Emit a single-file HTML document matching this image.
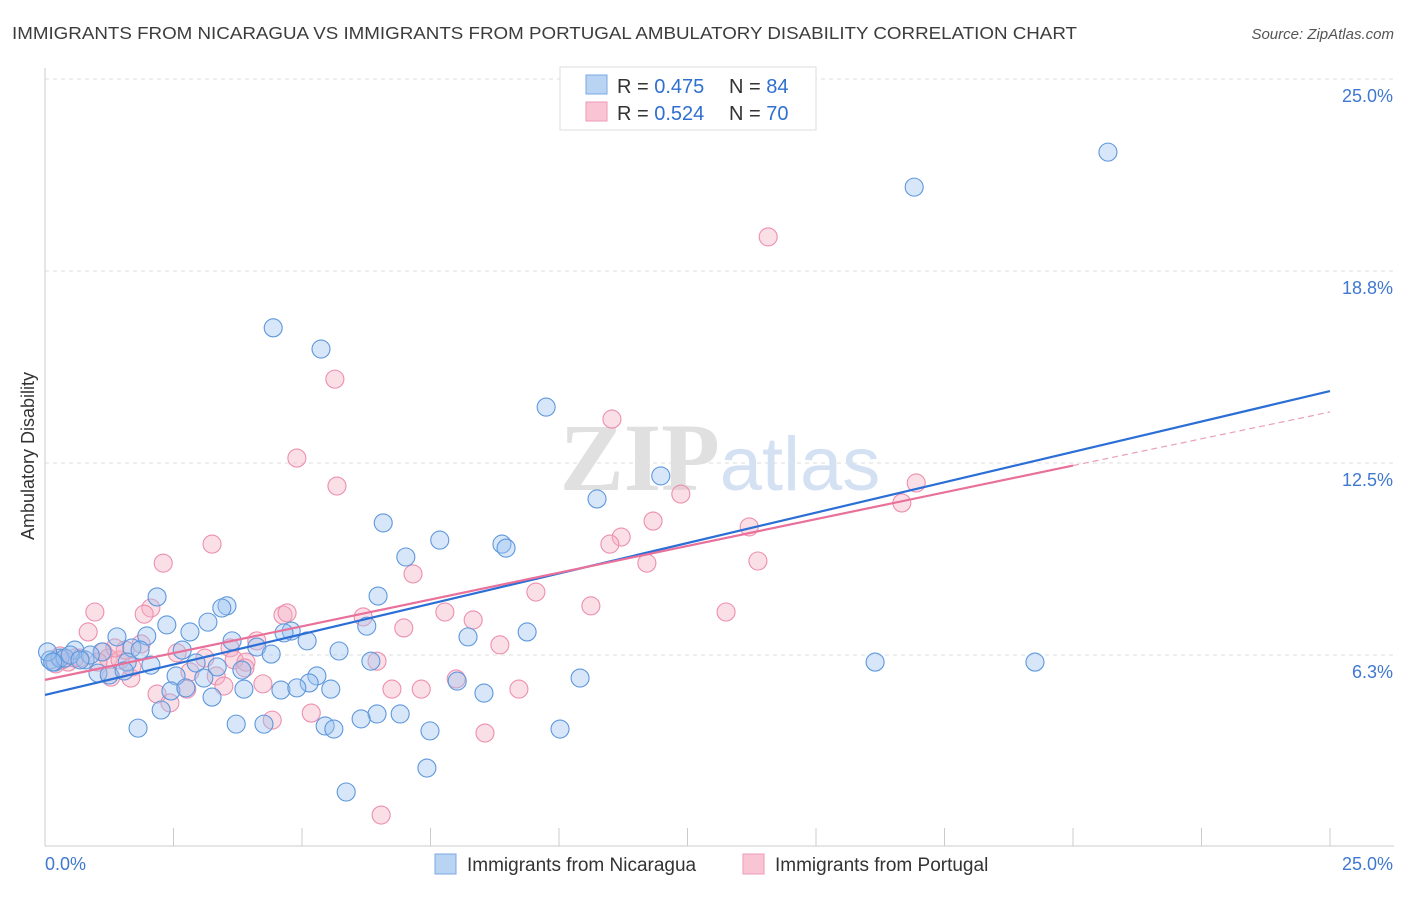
<!DOCTYPE html>
<html><head><meta charset="utf-8"><style>
body{margin:0;background:#fff;font-family:"Liberation Sans",sans-serif;}
svg text{font-family:"Liberation Sans",sans-serif;}
</style></head><body>
<svg id="chart" width="1406" height="892" viewBox="0 0 1406 892" xmlns="http://www.w3.org/2000/svg">
<text x="12" y="39" font-size="17.5" fill="#3c3c3c" textLength="1065" lengthAdjust="spacingAndGlyphs">IMMIGRANTS FROM NICARAGUA VS IMMIGRANTS FROM PORTUGAL AMBULATORY DISABILITY CORRELATION CHART</text>
<text x="1394" y="39" font-size="15" font-style="italic" fill="#555" text-anchor="end">Source: ZipAtlas.com</text>
<text transform="translate(34,456) rotate(-90)" font-size="18" fill="#333" text-anchor="middle">Ambulatory Disability</text>
<g id="grid"></g>
<g id="axes"></g>
<text x="720" y="490" font-size="96" text-anchor="middle"><tspan fill="#e0e0e0" font-family="Liberation Serif" font-weight="bold">ZIP</tspan><tspan fill="#d3e1f3" font-size="76">atlas</tspan></text>
<g id="points"></g>
<g id="lines"></g>
<g>
<rect x="560" y="67" width="256" height="63" fill="#fff" stroke="#ddd"/>
<rect x="586" y="75" width="21" height="19" fill="#b9d3f3" stroke="#7aaae6"/>
<rect x="586" y="102" width="21" height="19" fill="#f9c5d5" stroke="#ee9ab5"/>
<text x="617" y="93" font-size="20" fill="#333">R = <tspan fill="#2f6fd0">0.475</tspan></text>
<text x="729" y="93" font-size="20" fill="#333">N = <tspan fill="#2f6fd0">84</tspan></text>
<text x="617" y="120" font-size="20" fill="#333">R = <tspan fill="#2f6fd0">0.524</tspan></text>
<text x="729" y="120" font-size="20" fill="#333">N = <tspan fill="#2f6fd0">70</tspan></text>
</g>
<g>
<rect x="435" y="854" width="21" height="20" fill="#b9d3f3" stroke="#7aaae6"/>
<text x="467" y="871" font-size="19" fill="#333">Immigrants from Nicaragua</text>
<rect x="743" y="854" width="21" height="20" fill="#f9c5d5" stroke="#ee9ab5"/>
<text x="775" y="871" font-size="19" fill="#333">Immigrants from Portugal</text>
</g>
</svg>
<script>
const blueX=[20.68,16.91,4.44,5.37,9.75,11.98,10.74,6.58,7.68,8.89,8.97,7.02,2.18,6.48,3.54,3.44,2.37,3.17,6.26,9.38,4.79,4.65,2.82,1.40,1.98,3.64,5.10,8.23,4.12,1.69,1.85,0.58,1.11,2.67,4.40,5.72,6.34,16.15,19.26,1.60,2.06,2.94,3.35,3.83,1.03,1.25,1.54,2.55,5.29,10.41,3.09,5.14,8.02,3.87,4.59,4.90,5.56,2.45,2.74,8.54,3.25,2.26,6.91,6.46,6.15,1.81,3.72,4.26,5.45,5.62,7.49,10.02,7.43,5.86,0.10,0.19,0.29,0.39,0.78,0.88,0.49,0.68,0.05,0.15];
const blueY=[22.62,21.48,16.90,16.21,14.32,12.08,11.33,10.55,9.99,9.86,9.73,9.44,8.14,8.17,7.85,7.78,7.23,7.32,7.19,7.00,7.03,6.97,7.00,6.84,6.87,6.71,6.71,6.84,6.51,6.48,6.41,6.41,6.35,6.41,6.28,6.38,6.05,6.02,6.02,6.02,5.92,5.99,5.86,5.76,5.66,5.60,5.73,5.57,5.57,5.50,5.50,5.34,5.40,5.14,5.11,5.18,5.14,5.08,5.18,5.01,4.88,4.46,4.33,4.33,4.17,3.87,4.00,4.00,3.94,3.84,3.78,3.84,2.57,1.79,6.09,6.02,6.15,6.15,6.09,6.25,6.25,6.09,6.35,6.02];
const pinkX=[14.07,5.64,11.03,4.90,5.68,12.37,16.95,16.67,11.83,13.70,11.21,10.99,3.25,2.30,7.16,13.87,11.71,9.55,10.62,13.25,0.97,2.06,1.93,7.78,4.63,4.71,6.19,8.33,6.98,0.84,1.87,4.12,8.85,3.60,1.13,2.57,0.29,0.68,1.23,1.46,1.03,3.68,3.91,6.46,3.89,2.82,3.33,1.28,1.67,8.00,4.24,3.48,6.75,7.32,9.22,2.18,2.76,2.43,5.18,4.42,8.56,6.54,0.45,0.58,0.33,0.21,1.56,3.11,1.36,1.69];
const pinkY=[19.86,15.23,13.93,12.66,11.75,11.49,11.85,11.20,10.61,10.42,10.09,9.86,9.86,9.24,8.89,9.31,9.24,8.30,7.85,7.65,7.65,7.78,7.58,7.65,7.55,7.62,7.49,7.39,7.13,7.00,6.61,6.71,6.58,6.48,6.35,6.32,6.22,6.15,6.15,6.09,6.02,6.09,6.02,6.05,5.83,5.70,5.57,5.53,5.50,5.47,5.31,5.24,5.14,5.14,5.14,4.98,5.14,4.69,4.36,4.13,3.71,1.04,6.02,6.15,6.09,5.96,6.41,6.15,6.48,5.86];
const yTicks=[6.25,12.5,18.75,25];
const yTickLabels=["6.3%","12.5%","18.8%","25.0%"];
const xTicks=[0,2.5,5,7.5,10,12.5,15,17.5,20,22.5,25];
const blueLine=[4.95,14.84];
const pinkLine=[5.44,14.16];
const pinkSolidEnd=20;

const NS="http://www.w3.org/2000/svg";
const X0=45,X1=1330,Y0=847,PXY=30.72;
const sx=v=>X0+(X1-X0)*v/25;
const sy=v=>Y0-v*PXY;
function mk(t,a,p){const e=document.createElementNS(NS,t);for(const k in a)e.setAttribute(k,a[k]);p.appendChild(e);return e;}
const grid=document.getElementById('grid'),axes=document.getElementById('axes'),pts=document.getElementById('points'),lines=document.getElementById('lines');
yTicks.forEach((t,i)=>{
 const l=mk('line',{x1:X0,x2:1394,y1:sy(t),y2:sy(t),stroke:'#ddd','stroke-dasharray':'4,4'},grid);
 
 
 const tx=mk('text',{x:1393,y:sy(t)+23,'font-size':18,fill:'#3f78d0','text-anchor':'end'},axes);
 tx.textContent=yTickLabels[i];
 
 
});
mk('line',{x1:X0,x2:X0,y1:68,y2:846,stroke:'#ccc'},axes);
mk('line',{x1:X0,x2:1394,y1:846,y2:846,stroke:'#ccc'},axes);
xTicks.forEach(t=>{const l=mk('line',{x1:sx(t),x2:sx(t),y1:828,y2:846,stroke:'#ccc'},axes);
 
 });
const xl=mk('text',{x:45,y:870,'font-size':18,fill:'#3f78d0'},axes);xl.textContent='0.0%';


const xr=mk('text',{x:1393,y:870,'font-size':18,fill:'#3f78d0','text-anchor':'end'},axes);xr.textContent='25.0%';


function drawPts(X,Y,fill,stroke,name){X.forEach((x,i)=>{const c=mk('circle',{cx:sx(x),cy:sy(Y[i]),r:9,fill:fill,'fill-opacity':0.4,stroke:stroke,'stroke-width':1.1},pts);
 
 });}
drawPts(pinkX,pinkY,'#f6aec4','#ec8fae','portugal-point');
drawPts(blueX,blueY,'#9cc2ef','#5e97dc','nicaragua-point');
const bl=mk('line',{x1:sx(0),y1:sy(blueLine[0]),x2:sx(25),y2:sy(blueLine[1]),stroke:'#2b6fd6','stroke-width':2.2},lines);


const pAt=x=>pinkLine[0]+(pinkLine[1]-pinkLine[0])*x/25;
const pl=mk('line',{x1:sx(0),y1:sy(pAt(0)),x2:sx(pinkSolidEnd),y2:sy(pAt(pinkSolidEnd)),stroke:'#e8709a','stroke-width':2.2},lines);


const pd=mk('line',{x1:sx(pinkSolidEnd),y1:sy(pAt(pinkSolidEnd)),x2:sx(25),y2:sy(pAt(25)),stroke:'#e8a0b8','stroke-width':1.2,'stroke-dasharray':'6,4'},lines);


</script>
</body></html>
